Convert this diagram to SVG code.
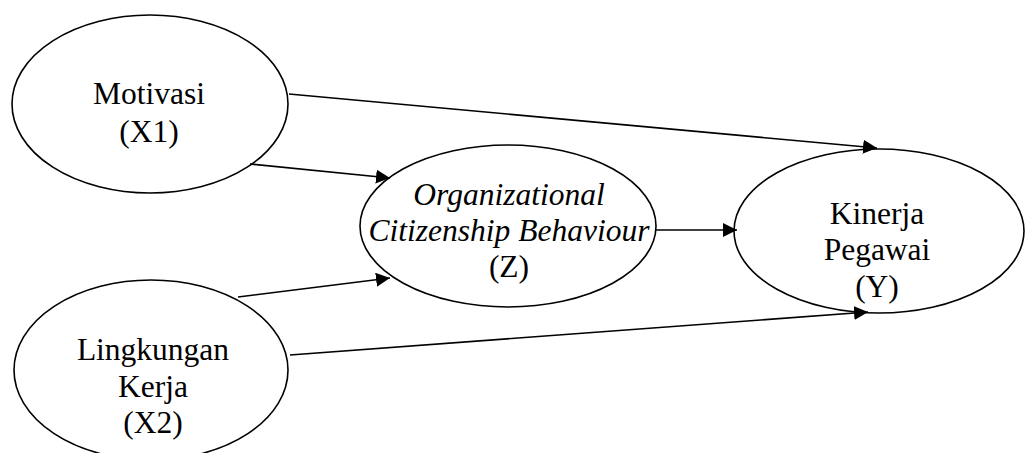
<svg xmlns="http://www.w3.org/2000/svg" width="1025" height="453" viewBox="0 0 1025 453">
<style>
.node ellipse{fill:#fff;stroke:#000;stroke-width:1.6}
.node text{font-family:"Liberation Serif","Times New Roman",serif;font-size:31.5px;fill:#000;text-anchor:middle}
.it{font-style:italic}
.conn line{stroke:#000;stroke-width:1.6;marker-end:url(#ah)}
</style>
<defs>
<marker id="ah" markerUnits="userSpaceOnUse" markerWidth="14" markerHeight="14" refX="14" refY="7" orient="auto" viewBox="0 0 14 14">
<path d="M0,0 L14,7 L0,14 z" fill="#000"/>
</marker>
</defs>
<rect width="1025" height="453" fill="#fff"/>
<g id="n-motivasi" class="node">
<ellipse cx="150" cy="104" rx="138" ry="89"/>
<text x="149" y="104">Motivasi</text>
<text x="149" y="142">(X1)</text>
</g>
<g id="n-ocb" class="node">
<ellipse cx="508" cy="226" rx="148" ry="81"/>
<text x="509" y="205" class="it">Organizational</text>
<text x="509" y="241" class="it">Citizenship Behaviour</text>
<text x="509" y="277">(Z)</text>
</g>
<g id="n-kinerja" class="node">
<ellipse cx="879" cy="231" rx="145" ry="82"/>
<text x="877" y="224">Kinerja</text>
<text x="877" y="260">Pegawai</text>
<text x="877" y="297">(Y)</text>
</g>
<g id="n-lingkungan" class="node">
<ellipse cx="151" cy="370" rx="137" ry="90"/>
<text x="153" y="360">Lingkungan</text>
<text x="153" y="397">Kerja</text>
<text x="153" y="433">(X2)</text>
</g>
<g id="connectors" class="conn">
<line x1="289" y1="94" x2="877" y2="148"/>
<line x1="250" y1="164" x2="390" y2="178"/>
<line x1="238" y1="297" x2="390" y2="278"/>
<line x1="290" y1="355" x2="868" y2="312"/>
<line x1="656" y1="230" x2="737" y2="230"/>
</g>
</svg>
